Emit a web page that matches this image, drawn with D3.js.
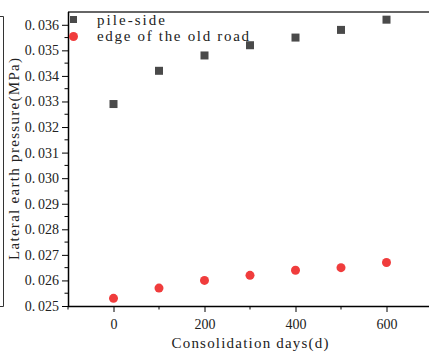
<!DOCTYPE html>
<html>
<head>
<meta charset="utf-8">
<script src="https://cdn.jsdelivr.net/npm/d3@7"></script>
<style>
  html, body { margin: 0; padding: 0; background: #fff; }
  svg { display: block; }
  text { font-family: "Liberation Serif", "DejaVu Serif", serif; fill: #222; }
</style>
</head>
<body>
<div id="chart"></div>
<script>
// consolidation days
const days = [0, 100, 200, 300, 400, 500, 600];
// lateral earth pressure (MPa)
const pileSide = [0.0329, 0.0342, 0.0348, 0.0352, 0.0355, 0.0358, 0.0362];
const oldRoadEdge = [0.0253, 0.0257, 0.0260, 0.0262, 0.0264, 0.0265, 0.0267];
const seriesNames = ['pile-side', 'edge of the old road'];
const xTicks = [0, 200, 400, 600];
const xMinorTicks = [-100, 100, 300, 500];
const yTicks = [0.025, 0.026, 0.027, 0.028, 0.029, 0.030, 0.031, 0.032, 0.033, 0.034, 0.035, 0.036];

const W = 429, H = 352;
const m = { left: 68, top: 12, right: -3, bottom: 46 };

const svg = d3.select('#chart').append('svg')
  .attr('width', W).attr('height', H);

const x = d3.scaleLinear().domain([-100, 700]).range([m.left, W - m.right]);
const y = d3.scaleLinear().domain([0.025, 0.0365]).range([H - m.bottom, m.top]);

// stray frame edge of a neighbouring panel at the left border
svg.append('path')
  .attr('d', 'M0,16.5H3.5V306.5H0')
  .attr('fill', 'none').attr('stroke', '#333').attr('stroke-width', 1);

// top frame line
svg.append('line')
  .attr('x1', m.left).attr('x2', W)
  .attr('y1', m.top).attr('y2', m.top)
  .attr('stroke', '#666').attr('stroke-width', 2);

// x axis
const xAxis = svg.append('g').attr('transform', `translate(0,${H - m.bottom})`);
xAxis.call(d3.axisBottom(x).tickValues(xTicks).tickSize(6).tickFormat(d3.format('d')));
xMinorTicks.forEach(v => {
  xAxis.append('line').attr('x1', x(v)).attr('x2', x(v)).attr('y1', 0).attr('y2', 3.5)
    .attr('stroke', '#000').attr('stroke-width', 1);
});
xAxis.select('.domain').attr('d', `M${m.left},0.5H${W}`).attr('stroke-width', 1.5);
xAxis.selectAll('.tick line').attr('stroke-width', 1);
xAxis.selectAll('.tick text')
  .attr('y', 13)
  .style('font-size', '14px')
  .style('font-family', '"Liberation Serif", serif')
  .attr('fill', '#222');

// y axis
const yAxis = svg.append('g').attr('transform', `translate(${m.left},0)`);
yAxis.call(d3.axisLeft(y).tickValues(yTicks).tickSize(6)
  .tickFormat(d => d3.format('.3f')(d).replace('.', '.\u2009')));
d3.range(0.0255, 0.0365, 0.001).forEach(v => {
  yAxis.append('line').attr('x1', -3.5).attr('x2', 0).attr('y1', y(v)).attr('y2', y(v))
    .attr('stroke', '#000').attr('stroke-width', 1);
});
yAxis.select('.domain').attr('d', `M0.5,${H - m.bottom}V${m.top}`).attr('stroke-width', 1.5);
yAxis.selectAll('.tick text')
  .attr('x', -9)
  .style('font-size', '14px')
  .style('font-family', '"Liberation Serif", serif')
  .attr('fill', '#222');

// axis titles
svg.append('text')
  .attr('x', (m.left + W - m.right) / 2).attr('y', 348)
  .attr('text-anchor', 'middle')
  .attr('textLength', 157)
  .style('font-size', '15px')
  .text('Consolidation days(d)');

svg.append('text')
  .attr('transform', `translate(19,${(m.top + H - m.bottom) / 2}) rotate(-90)`)
  .attr('text-anchor', 'middle')
  .attr('textLength', 202)
  .style('font-size', '15px')
  .text('Lateral earth pressure(MPa)');

// series
svg.append('g').selectAll('rect')
  .data(days.map((d, i) => [d, pileSide[i]]))
  .join('rect')
  .attr('x', d => x(d[0]) - 4).attr('y', d => y(d[1]) - 4)
  .attr('width', 8).attr('height', 8)
  .attr('fill', '#4a4a4a');

svg.append('g').selectAll('circle')
  .data(days.map((d, i) => [d, oldRoadEdge[i]]))
  .join('circle')
  .attr('cx', d => x(d[0])).attr('cy', d => y(d[1]))
  .attr('r', 4.5)
  .attr('fill', '#f03c3c');

// legend
const legend = svg.append('g');
legend.append('rect').attr('x', 70).attr('y', 16).attr('width', 7).attr('height', 7).attr('fill', '#4a4a4a');
legend.append('circle').attr('cx', 73.5).attr('cy', 36.5).attr('r', 4.5).attr('fill', '#f03c3c');
legend.append('text').attr('x', 97).attr('y', 24.5).attr('textLength', 68)
  .style('font-size', '15px').text(seriesNames[0]);
legend.append('text').attr('x', 97).attr('y', 41).attr('textLength', 152)
  .style('font-size', '15px').text(seriesNames[1]);
</script>
</body>
</html>
